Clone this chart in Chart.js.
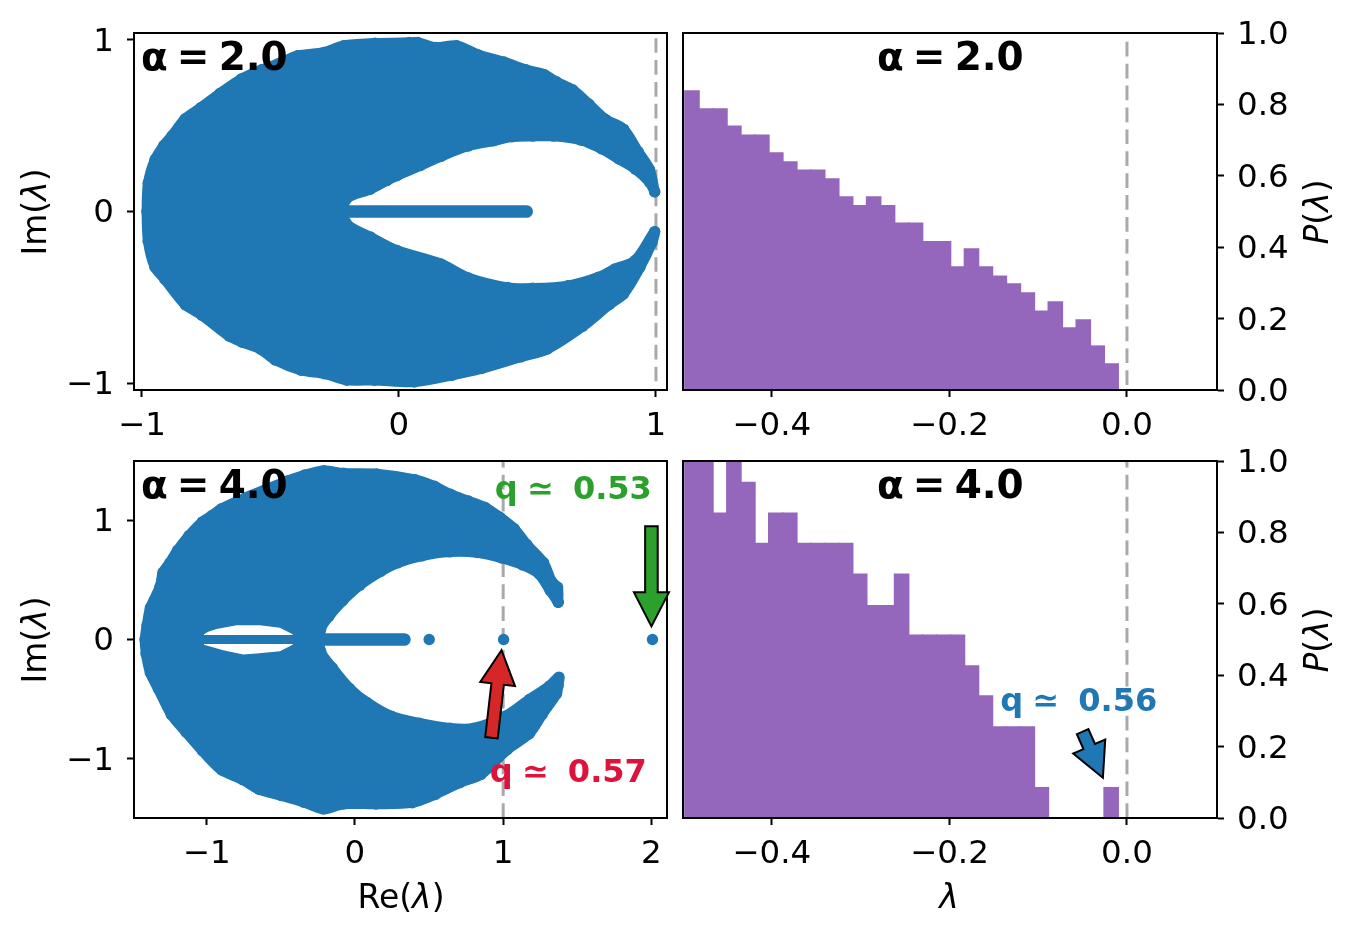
<!DOCTYPE html>
<html><head><meta charset="utf-8">
<script src="https://cdn.jsdelivr.net/npm/chart.js@4"></script>
<style>
html,body{margin:0;padding:0;background:#fff;width:1353px;height:936px;overflow:hidden}
canvas{position:absolute}
</style></head><body>
<canvas id="tl" style="left:0;top:0"></canvas>
<canvas id="bl" style="left:0;top:428px"></canvas>
<canvas id="tr" style="left:675px;top:0"></canvas>
<canvas id="br" style="left:675px;top:428px"></canvas>
<script>
const FONT='"DejaVu Sans"';
const BLUE='#1f77b4',PURPLE='#9467bd',GREEN='#2ca02c',RED='#d62728',CRIMSON='#dc143c';

// ---- alpha = 2 spectrum outline (Re, Im) ----
const a2Re=[0.995,0.975,0.931,0.874,0.803,0.739,0.676,0.613,0.564,0.494,0.409,0.307,0.225,0.142,0.073,0.041,-0.093,-0.215,-0.291,-0.394,-0.470,-0.535,-0.612,-0.697,-0.770,-0.832,-0.883,-0.915,-0.949,-0.976,-0.981,-0.976,-0.950,-0.912,-0.831,-0.767,-0.660,-0.610,-0.538,-0.482,-0.381,-0.290,-0.203,-0.095,0.060,0.207,0.322,0.475,0.578,0.715,0.819,0.874,0.938,0.985,0.995,0.920,0.841,0.776,0.657,0.521,0.423,0.268,0.163,-0.008,-0.112,-0.206,-0.206,-0.112,-0.046,-0.007,0.084,0.163,0.268,0.368,0.440,0.521,0.601,0.709,0.789,0.854,0.920,0.975,0.995];
const a2Im=[0.115,0.245,0.348,0.480,0.538,0.626,0.709,0.756,0.799,0.826,0.871,0.914,0.966,0.956,0.985,0.985,0.980,0.966,0.927,0.908,0.861,0.826,0.774,0.688,0.606,0.540,0.441,0.385,0.303,0.165,0,-0.173,-0.323,-0.393,-0.544,-0.604,-0.727,-0.762,-0.803,-0.865,-0.925,-0.945,-0.983,-0.983,-0.993,-0.954,-0.915,-0.847,-0.801,-0.669,-0.542,-0.480,-0.325,-0.180,-0.117,-0.284,-0.334,-0.383,-0.433,-0.447,-0.443,-0.385,-0.305,-0.227,-0.148,-0.066,0.070,0.130,0.181,0.210,0.268,0.321,0.381,0.412,0.435,0.439,0.439,0.416,0.365,0.307,0.247,0.171,0.115];
const a2TailRe=[-0.3,-0.1,0,0.1,0.2,0.3,0.4,0.497];
const a2TailIm=[0,0,0,0,0,0,0,0];

// ---- alpha = 4 spectrum outline (Re, Im) ----
const a4Re=[1.371,1.367,1.328,1.272,1.160,1.074,0.978,0.879,0.766,0.645,0.537,0.405,0.146,-0.076,-0.209,-0.339,-0.450,-0.605,-0.740,-0.899,-0.964,-1.029,-1.119,-1.196,-1.250,-1.295,-1.315,-1.380,-1.403,-1.416,-1.409,-1.380,-1.326,-1.239,-1.140,-1.029,-0.899,-0.757,-0.647,-0.494,-0.342,-0.214,-0.079,0.142,0.387,0.542,0.708,0.850,1.027,1.176,1.263,1.360,1.371,1.376,1.313,1.180,1.014,0.802,0.641,0.434,0.245,0.081,-0.036,-0.153,-0.231,-0.231,-0.175,-0.083,0.034,0.173,0.288,0.452,0.641,0.825,0.989,1.131,1.241,1.317,1.371];
const a4Im=[0.312,0.438,0.483,0.644,0.795,0.929,1.024,1.105,1.160,1.216,1.283,1.339,1.386,1.392,1.414,1.378,1.331,1.255,1.186,1.096,1.038,0.985,0.870,0.748,0.639,0.561,0.441,0.265,0.117,0,-0.117,-0.279,-0.413,-0.628,-0.775,-0.932,-1.093,-1.174,-1.255,-1.308,-1.364,-1.420,-1.378,-1.378,-1.367,-1.297,-1.199,-1.130,-0.923,-0.789,-0.628,-0.455,-0.385,-0.315,-0.388,-0.499,-0.642,-0.742,-0.742,-0.700,-0.642,-0.527,-0.410,-0.237,-0.098,0.084,0.195,0.324,0.455,0.569,0.642,0.700,0.734,0.728,0.683,0.625,0.550,0.410,0.312];
const a4HoleRe=[-1.018,-0.989,-0.933,-0.798,-0.641,-0.506,-0.420,-0.420,-0.506,-0.663,-0.753,-0.888,-1.018];
const a4HoleIm=[0.045,0.065,0.088,0.120,0.120,0.098,0.045,-0.045,-0.098,-0.117,-0.126,-0.089,-0.045];
const a4BandRe=[-1.03,-0.41];
const a4BandIm=[0,0];
const a4TailRe=[-0.3,-0.1,0,0.1,0.2,0.334];
const a4TailIm=[0,0,0,0,0,0];
const a4OutRe=[0.501,1.003,2.007];
const a4OutIm=[0,0,0];

// ---- histograms ----
const binCenters=[-0.4899,-0.4742,-0.4584,-0.4427,-0.4269,-0.4112,-0.3955,-0.3797,-0.3640,-0.3483,-0.3325,-0.3168,-0.3010,-0.2853,-0.2696,-0.2538,-0.2381,-0.2224,-0.2066,-0.1909,-0.1751,-0.1594,-0.1437,-0.1279,-0.1122,-0.0964,-0.0807,-0.0650,-0.0492,-0.0335,-0.0178];
const hist2=[0.8375,0.787,0.787,0.7386,0.714,0.714,0.664,0.639,0.616,0.616,0.591,0.541,0.516,0.541,0.516,0.467,0.467,0.4155,0.4155,0.3445,0.395,0.3445,0.319,0.297,0.272,0.221,0.2465,0.174,0.196,0.123,0.073];
const hist4=[1.19,1.024,0.854,1.109,0.94,0.769,0.854,0.854,0.769,0.769,0.769,0.769,0.683,0.595,0.595,0.683,0.512,0.512,0.512,0.512,0.426,0.342,0.255,0.255,0.255,0.085,0,0,0,0,0.085];

// ---- ticks, labels ----
const ticksTLx=[-1,0,1], ticksTLy=[-1,0,1];
const ticksBLx=[-1,0,1,2], ticksBLy=[-1,0,1];
const ticksHx=[-0.4,-0.2,0], ticksHy=[0,0.2,0.4,0.6,0.8,1];
const alphaTop='α = 2.0', alphaBottom='α = 4.0';
const qGreen='q ≃  0.53', qRed='q ≃  0.57', qBlue='q ≃  0.56';
const xs=(a,b)=>a.map((v,i)=>({x:v,y:b[i]}));
const minus=s=>String(s).replace('-','\u2212');

function scaleBase(pos,min,max,ticks,fmt,size){
  const horiz=pos==='bottom';
  return {type:'linear',position:pos,min,max,offset:false,bounds:'data',
    afterBuildTicks:s=>{s.ticks=ticks.map(v=>({value:v}));},
    afterFit:s=>{ if(horiz) s.height=size; else s.width=size; },
    grid:{display:true,offset:false,drawOnChartArea:false,drawTicks:true,tickLength:7,tickColor:'#000',tickWidth:2},
    border:{display:true,color:'#000',width:2},
    ticks:{autoSkip:false,maxRotation:0,minRotation:0,color:'#000',padding:horiz?10.5:13,labelOffset:horiz?0:2.5,
      font:{family:FONT,size:32.5},callback:v=>minus(fmt(v))}
  };
}
function rich(ctx,parts,x,y,rot,size){
  ctx.save();ctx.translate(x,y);ctx.rotate(rot);ctx.fillStyle='#000';ctx.textBaseline='alphabetic';ctx.textAlign='left';
  const f=p=>(p.i?'italic ':'')+size+'px '+FONT;
  let w=0;parts.forEach(p=>{ctx.font=f(p);w+=ctx.measureText(p.t).width;});
  let cx=-w/2;parts.forEach(p=>{ctx.font=f(p);ctx.fillText(p.t,cx,0);cx+=ctx.measureText(p.t).width;});
  ctx.restore();
}
function arrow(chart,t0,t1,fill){
  const X=chart.scales.x,Y=chart.scales.y,c=chart.ctx;
  const ax=X.getPixelForValue(t0[0]),ay=Y.getPixelForValue(t0[1]),bx=X.getPixelForValue(t1[0]),by=Y.getPixelForValue(t1[1]);
  const L=Math.hypot(bx-ax,by-ay),sw=6.3,hw=17.5,hl=34;
  c.save();c.translate(ax,ay);c.rotate(Math.atan2(by-ay,bx-ax));
  c.beginPath();c.moveTo(0,-sw);c.lineTo(L-hl,-sw);c.lineTo(L-hl,-hw);c.lineTo(L,0);c.lineTo(L-hl,hw);c.lineTo(L-hl,sw);c.lineTo(0,sw);c.closePath();
  c.fillStyle=fill;c.fill();c.lineWidth=2;c.strokeStyle='#000';c.lineJoin='miter';c.stroke();c.restore();
}
function label(chart,txt,x,y,color){
  const c=chart.ctx;c.save();c.font='bold 32px '+FONT;c.wordSpacing='-1.7px';c.fillStyle=color;c.textBaseline='alphabetic';c.textAlign='left';
  c.fillText(txt,chart.scales.x.getPixelForValue(x),chart.scales.y.getPixelForValue(y));c.restore();
}
function panelPlugin(cfg){
  return {id:'panel',afterDatasetsDraw(chart){
    const c=chart.ctx,a=chart.chartArea;
    c.save();c.strokeStyle='#000';c.lineWidth=2;c.strokeRect(a.left,a.top,a.right-a.left,a.bottom-a.top);c.restore();
    (cfg.arrows||[]).forEach(r=>arrow(chart,r[0],r[1],r[2]));
    (cfg.labels||[]).forEach(r=>label(chart,r[0],r[1],r[2],r[3]));
    c.save();c.font='bold 39px '+FONT;c.wordSpacing='-4.5px';c.fillStyle='#000';c.textBaseline='alphabetic';c.textAlign='left';
    c.fillText(cfg.alpha,a.left+cfg.ax,a.top+37);c.restore();
    (cfg.rich||[]).forEach(r=>rich(c,r[0],r[1],r[2],r[3],33));
  }};
}
const tight={animation:false,responsive:false,events:[],plugins:{legend:{display:false},tooltip:{enabled:false}}};
function dash(x,y0,y1){return {data:xs([x,x],[y0,y1]),showLine:true,pointRadius:0,borderColor:'rgba(128,128,128,0.68)',borderWidth:3,borderDash:[14.7,7.2],order:9};}
function blob(re,im,order){return {data:xs(re,im),showLine:true,fill:'shape',backgroundColor:BLUE,borderColor:BLUE,borderWidth:10.4,borderJoinStyle:'round',borderCapStyle:'round',pointRadius:5.7,pointBackgroundColor:BLUE,pointBorderWidth:0,tension:0.3,order};}
function bar(re,im,order,w){return {data:xs(re,im),showLine:true,borderColor:BLUE,borderWidth:w,borderCapStyle:'round',pointRadius:0,order};}
function size(id,w,h){const e=document.getElementById(id);e.width=w;e.height=h;e.style.width=w+'px';e.style.height=h+'px';return e;}

const IM=[{t:'Im('},{t:'λ',i:1},{t:')'}],RE=[{t:'Re('},{t:'λ',i:1},{t:')'}],PL=[{t:'P',i:1},{t:'('},{t:'λ',i:1},{t:')'}],LA=[{t:'λ',i:1}];

new Chart(size('tl',700,450),{type:'scatter',
  data:{datasets:[dash(1,1.01,-1.01),blob(a2Re,a2Im,2),bar(a2TailRe,a2TailIm,1,12.6)]},
  options:{...tight,layout:{padding:{top:33,right:33}},
    scales:{x:scaleBase('bottom',-1.031,1.043,ticksTLx,v=>v,60),y:scaleBase('left',-1.04,1.04,ticksTLy,v=>v,134)}},
  plugins:[panelPlugin({alpha:alphaTop,ax:7,rich:[[IM,46,212,-Math.PI/2]]})]});

new Chart(size('bl',700,508),{type:'scatter',
  data:{datasets:[dash(1,-1.495,1.495),
    {data:xs(a4OutRe,a4OutIm),pointRadius:5.7,pointBackgroundColor:BLUE,pointBorderWidth:0,order:0},
    bar(a4TailRe,a4TailIm,1,12.6),
    {data:xs(a4BandRe,a4BandIm),showLine:true,borderColor:BLUE,borderWidth:9,pointRadius:0,order:1},
    {data:xs(a4HoleRe,a4HoleIm),showLine:true,fill:'shape',backgroundColor:'#fff',borderWidth:0,pointRadius:0,tension:0,order:2},
    blob(a4Re,a4Im,3)]},
  options:{...tight,layout:{padding:{top:33,right:33}},
    scales:{x:scaleBase('bottom',-1.49,2.105,ticksBLx,v=>v,118),y:scaleBase('left',-1.495,1.495,ticksBLy,v=>v,134)}},
  plugins:[panelPlugin({alpha:alphaBottom,ax:7,
    arrows:[[[2.0,0.948],[2.0,0.11],GREEN],[[0.921,-0.823],[0.989,-0.09],RED]],
    labels:[[qGreen,0.944,1.18,GREEN],[qRed,0.910,-1.191,CRIMSON]],
    rich:[[IM,46,212,-Math.PI/2],[RE,401,480,0]]})]});

function histChart(id,h,vals,area,cfg){
  return new Chart(size(id,678,h),{type:'bar',
    data:{datasets:[{type:'bar',data:xs(binCenters,vals),backgroundColor:PURPLE,borderWidth:0,barPercentage:1.02,categoryPercentage:1,inflateAmount:0.7,order:2},
      {type:'scatter',...dash(0,area[0],area[1])}]},
    options:{...tight,layout:{padding:{top:33,left:8}},
      scales:{x:scaleBase('bottom',-0.5,0.1014,ticksHx,v=>Number(v).toFixed(1),h-390),y:scaleBase('right',0,1,ticksHy,v=>Number(v).toFixed(1),136)}},
    plugins:[panelPlugin(cfg)]});
}
histChart('tr',450,hist2,[0.014,0.985],{alpha:alphaTop,ax:194,rich:[[PL,653,212,-Math.PI/2]]});
histChart('br',508,hist4,[0,1],{alpha:alphaBottom,ax:194,
  arrows:[[[-0.0499,0.242],[-0.0271,0.113],BLUE]],
  labels:[[qBlue,-0.1428,0.2997,BLUE]],
  rich:[[PL,653,212,-Math.PI/2],[LA,274,480,0]]});
</script>
</body></html>
